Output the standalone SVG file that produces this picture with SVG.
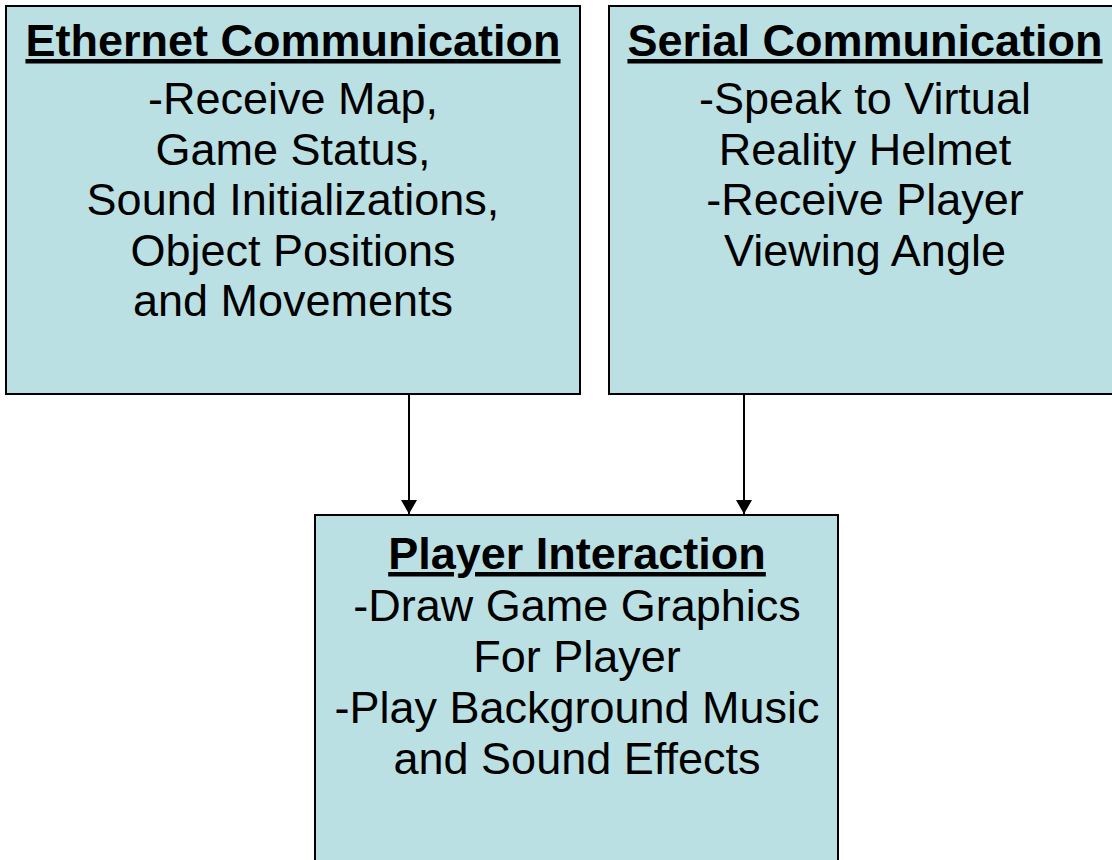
<svg xmlns="http://www.w3.org/2000/svg" width="1112" height="860" viewBox="0 0 1112 860">
  <style>
    .box { fill: #BBE0E3; stroke: #000; stroke-width: 2; }
    .head { font-family: "Liberation Sans", Arial, sans-serif; font-size: 45px; font-weight: bold; text-anchor: middle; text-decoration: underline; fill: #000; }
    .body { font-family: "Liberation Sans", Arial, sans-serif; font-size: 45px; text-anchor: middle; fill: #000; }
    .link { stroke: #000; stroke-width: 2; fill: none; }
  </style>
  <defs>
    <marker id="arrow" viewBox="0 0 14 16" refX="14" refY="8" markerWidth="14" markerHeight="16" markerUnits="userSpaceOnUse" orient="auto">
      <path d="M0,0 L14,8 L0,16 Z" fill="#000"/>
    </marker>
  </defs>

  <rect width="1112" height="860" fill="#fff"/>

  <g id="connectors">
    <line class="link" x1="409" y1="395" x2="409" y2="514" marker-end="url(#arrow)"/>
    <line class="link" x1="744" y1="395" x2="744" y2="514" marker-end="url(#arrow)"/>
  </g>

  <g id="ethernet">
    <rect class="box" x="6" y="6" width="574" height="388"/>
    <text class="head" x="293" y="56">Ethernet Communication</text>
    <text class="body" x="293" y="114">-Receive Map,</text>
    <text class="body" x="293" y="165">Game Status,</text>
    <text class="body" x="293" y="215">Sound Initializations,</text>
    <text class="body" x="293" y="266">Object Positions</text>
    <text class="body" x="293" y="316">and Movements</text>
  </g>

  <g id="serial">
    <rect class="box" x="609" y="6" width="512" height="388"/>
    <text class="head" x="865" y="56">Serial Communication</text>
    <text class="body" x="865" y="114">-Speak to Virtual</text>
    <text class="body" x="865" y="165">Reality Helmet</text>
    <text class="body" x="865" y="215">-Receive Player</text>
    <text class="body" x="865" y="266">Viewing Angle</text>
  </g>

  <g id="player">
    <rect class="box" x="315" y="515" width="523" height="360"/>
    <text class="head" x="577" y="569">Player Interaction</text>
    <text class="body" x="577" y="621">-Draw Game Graphics</text>
    <text class="body" x="577" y="672">For Player</text>
    <text class="body" x="577" y="723">-Play Background Music</text>
    <text class="body" x="577" y="774">and Sound Effects</text>
  </g>
</svg>
